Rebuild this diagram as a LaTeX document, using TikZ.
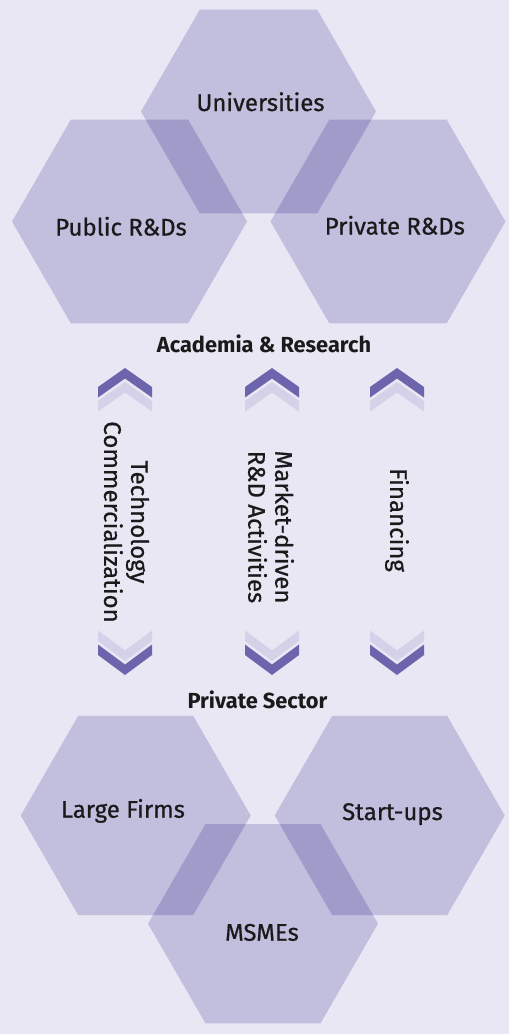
\documentclass[tikz,border=0pt]{standalone}
\usepackage{fontspec}
\setmainfont{Fira Sans}
\newfontfamily\mediumfont{Fira Sans}[FakeBold=0.7]
\usepackage{tikz}
\usetikzlibrary{shapes.geometric}

\definecolor{bgpurple}{RGB}{233,231,244}
\definecolor{hexpurple}{RGB}{212,210,233}
\definecolor{chevdark}{RGB}{108,100,172}
\definecolor{chevlight}{RGB}{212,209,232}
\definecolor{textblack}{RGB}{26,26,26}

\tikzset{
  hexagon/.style={regular polygon, regular polygon sides=6, fill=hexpurple, inner sep=0pt, outer sep=0pt},
  hexlabel/.style={anchor=base, text=textblack, font=\mediumfont\fontsize{24}{28}\selectfont},
  grouptitle/.style={anchor=base, text=textblack, font=\bfseries\fontsize{21.8}{26}\selectfont},
  flowlabel/.style={rotate=-90, align=center, text=textblack, font=\mediumfont\fontsize{24}{27}\selectfont}
}

\begin{document}
\begin{tikzpicture}[x=1pt, y=-1pt]

  \useasboundingbox (0,0) rectangle (509,1034);
  \fill[bgpurple] (0,0) rectangle (509,1034);

  % Hexagons for 'Academia & Research'
  \begin{scope}[blend mode=multiply]
    \node[hexagon, minimum size=235pt] (Universities) at (258.5,111.5) {};
    \node[hexagon, minimum size=235pt] (PublicRD) at (129.5,221.5) {};
    \node[hexagon, minimum size=235pt] (PrivateRD) at (388,221.5) {};
  \end{scope}

  % Hexagons for 'Private Sector'
  \begin{scope}[blend mode=multiply]
    \node[hexagon, minimum size=230pt] (LargeFirms) at (135.7,815.5) {};
    \node[hexagon, minimum size=230pt] (Startups) at (389.7,815.5) {};
    \node[hexagon, minimum size=230pt] (MSMEs) at (263,923.7) {};
  \end{scope}

  % Labels of the hexagons
  \node[hexlabel] (UniversitiesText) at (260.5,111) {Universities};
  \node[hexlabel] (PublicRDText) at (121,235.5) {Public R\&Ds};
  \node[hexlabel] (PrivateRDText) at (394.8,234.5) {Private R\&Ds};
  \node[hexlabel] (LargeFirmsText) at (123,817.7) {Large Firms};
  \node[hexlabel] (StartupsText) at (392.5,820) {Start-ups};
  \node[hexlabel] (MSMEsText) at (262,940.7) {MSMEs};

  % Group titles
  \node[grouptitle] (Academia) at (264,352.5) {Academia \& Research};
  \node[grouptitle] (PrivateSector) at (257.5,708) {Private Sector};

  % Chevrons pointing up and down
  \foreach \cx in {125,272,397} {
    \fill[chevlight] (\cx-27,401) -- (\cx,382) -- (\cx+27,401) -- (\cx+27,411.5) -- (\cx,392.5) -- (\cx-27,411.5) -- cycle;
    \fill[chevdark] (\cx-27,387) -- (\cx,368) -- (\cx+27,387) -- (\cx+27,397.5) -- (\cx,378.5) -- (\cx-27,397.5) -- cycle;
    \fill[chevlight] (\cx-27,630.5) -- (\cx,650.5) -- (\cx+27,630.5) -- (\cx+27,641) -- (\cx,661) -- (\cx-27,641) -- cycle;
    \fill[chevdark] (\cx-27,644.5) -- (\cx,664.5) -- (\cx+27,644.5) -- (\cx+27,655) -- (\cx,675) -- (\cx-27,655) -- cycle;
  }

  % Rotated labels between the chevrons
  \node[flowlabel] (TechComm) at (126.5,522) {Technology\\Commercialization};
  \node[flowlabel] (MarketRD) at (271,527) {Market-driven\\R\&D Activities};
  \node[flowlabel] (Financing) at (397,520) {Financing};

\end{tikzpicture}
\end{document}
